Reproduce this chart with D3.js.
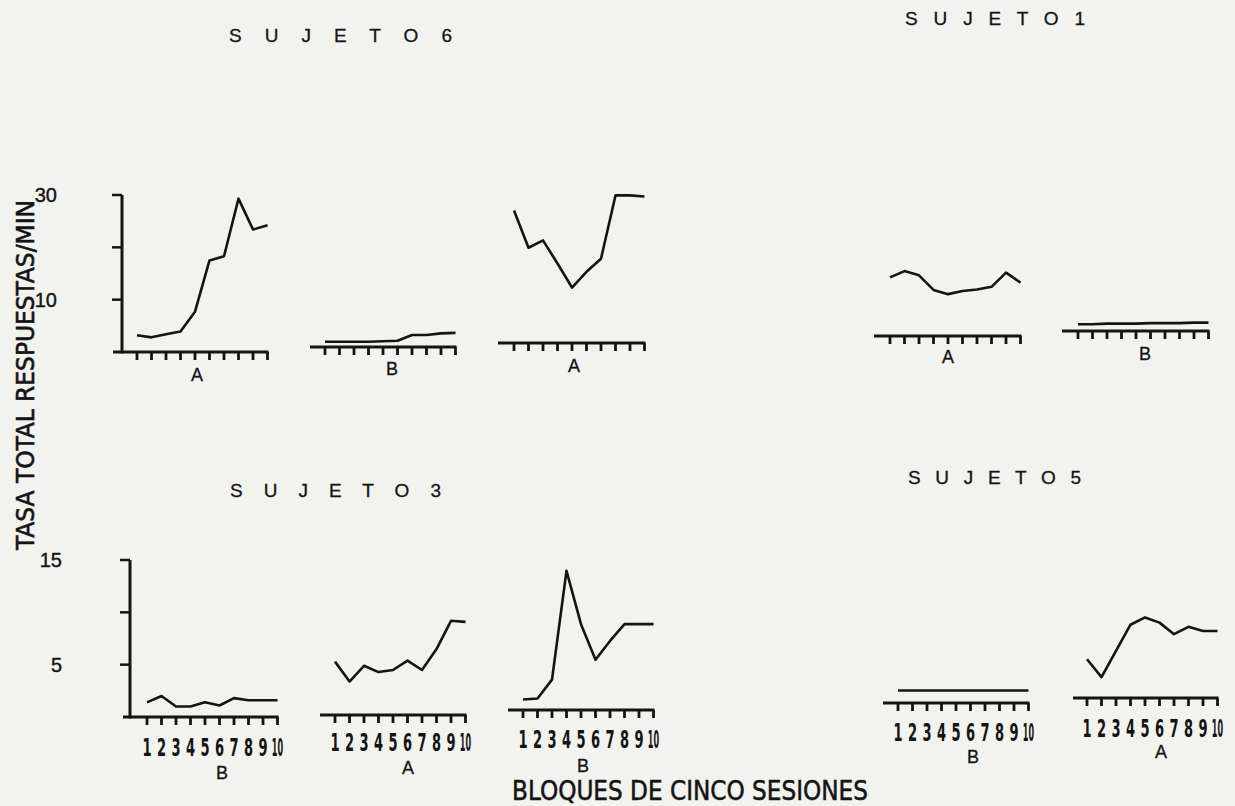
<!DOCTYPE html>
<html><head><meta charset="utf-8">
<script src="https://cdn.jsdelivr.net/npm/d3@7"></script>
<style>html,body{margin:0;padding:0;background:#f2f2ef;}svg{display:block;}</style>
</head><body>
<svg id="chart" width="1235" height="806"></svg>
<script>
// ---------- data ----------
const blocks = [1,2,3,4,5,6,7,8,9,10];
const blockLabels = ["1","2","3","4","5","6","7","8","9","10"];
const subjects = ["S U J E T O 6","S U J E T O 1","S U J E T O 3","S U J E T O 5"];
const conditions = ["A","B","A","A","B","B","A","B","B","A"];
const s6A1 = [3.2,2.8,3.4,3.9,7.7,17.5,18.3,29.3,23.4,24.2];
const s6B  = [1.0,1.0,1.0,1.0,1.1,1.2,2.3,2.3,2.6,2.7];
const s6A2 = [25.3,18.2,19.6,15.2,10.6,13.6,16.1,28.2,28.2,28.0];
const s1A  = [11.2,12.4,11.6,8.8,8.0,8.6,8.9,9.4,12.1,10.2];
const s1B  = [1.3,1.3,1.4,1.4,1.4,1.5,1.5,1.5,1.6,1.6];
const s3B1 = [1.4,2.0,1.0,1.0,1.4,1.1,1.8,1.6,1.6,1.6];
const s3A  = [5.1,3.2,4.7,4.1,4.3,5.2,4.3,6.3,9.0,8.9];
const s3B2 = [1.0,1.1,2.9,13.3,8.2,4.8,6.6,8.2,8.2,8.2];
const s5B  = [1.2,1.2,1.2,1.2,1.2,1.2,1.2,1.2,1.2,1.2];
const s5A  = [3.7,2.0,4.5,7.0,7.7,7.2,6.1,6.8,6.4,6.4];
const yTicksTop = [10,20,30];
const yTickLabelsTop = [30,10];
const yTicksBottom = [5,10,15];
const yTickLabelsBottom = [15,5];
const yAxisTitle = "TASA TOTAL RESPUESTAS/MIN";
const xAxisTitle = "BLOQUES DE CINCO SESIONES";

// ---------- layout ----------
const series = [s6A1,s6B,s6A2,s1A,s1B,s3B1,s3A,s3B2,s5B,s5A];
const layout = [
  {x0:137, base:352, start:113, yAxis:122, lx:197, ly:381, row:0},
  {x0:325, base:347, start:310, lx:392, ly:375, row:0},
  {x0:514, base:343, start:498, lx:574, ly:372, row:0},
  {x0:890, base:336, start:874, lx:948, ly:363, row:0},
  {x0:1078,base:331, start:1062,lx:1145,ly:360, row:0},
  {x0:147, base:717, start:123, yAxis:130, lx:222, ly:779, row:1, tl:756},
  {x0:335, base:715, start:320, lx:408, ly:774, row:1, tl:751},
  {x0:523, base:710, start:508, lx:583, ly:772, row:1, tl:748},
  {x0:898, base:703, start:883, lx:973, ly:763, row:1, tl:741},
  {x0:1087,base:698, start:1073,lx:1161,ly:758, row:1, tl:737}
];
const step = 14.5;
const rowScale = [{max:30, h:157}, {max:15, h:157}];
const titlePos = [
  {x1:229, x2:452, y:42},
  {x1:905, x2:1085, y:25},
  {x1:230, x2:441, y:497},
  {x1:908, x2:1081, y:484}
];
const ink = "#141414";
const narrow = "'Liberation Sans Narrow', 'DejaVu Sans Condensed', sans-serif";
const svg = d3.select("#chart");
svg.append("rect").attr("width",1235).attr("height",806).attr("fill","#f2f2ef");

// titles
subjects.forEach((t,i)=>{
  const p = titlePos[i];
  svg.append("text").attr("x",p.x1).attr("y",p.y)
    .attr("font-family","'Liberation Sans', Arial, sans-serif")
    .attr("font-size",19).attr("fill",ink)
    .attr("stroke",ink).attr("stroke-width",0.3)
    .attr("textLength",p.x2-p.x1).attr("lengthAdjust","spacing")
    .text(t);
});

// panels
series.forEach((vals,i)=>{
  const L = layout[i];
  const rs = rowScale[L.row];
  const x = d3.scaleLinear().domain([1,10]).range([L.x0, L.x0 + 9*step]);
  const y = d3.scaleLinear().domain([0,rs.max]).range([L.base, L.base - rs.h]);
  const g = svg.append("g");
  // baseline
  g.append("line").attr("x1",L.start).attr("x2",x(10)+1).attr("y1",y(0)).attr("y2",y(0))
    .attr("stroke",ink).attr("stroke-width",3);
  // ticks
  g.selectAll("line.tk").data(blocks).enter().append("line")
    .attr("x1",d=>x(d)).attr("x2",d=>x(d)).attr("y1",y(0)).attr("y2",y(0)+8)
    .attr("stroke",ink).attr("stroke-width",2.8);
  // y axis
  if (L.yAxis !== undefined) {
    const ticks = L.row===0 ? yTicksTop : yTicksBottom;
    const labels = L.row===0 ? yTickLabelsTop : yTickLabelsBottom;
    g.append("line").attr("x1",L.yAxis).attr("x2",L.yAxis).attr("y1",y(0)+1.5).attr("y2",y(rs.max))
      .attr("stroke",ink).attr("stroke-width",3);
    g.selectAll("line.yt").data(ticks).enter().append("line")
      .attr("x1",L.yAxis-10).attr("x2",L.yAxis).attr("y1",d=>y(d)).attr("y2",d=>y(d))
      .attr("stroke",ink).attr("stroke-width",2.5);
    g.selectAll("text.yl").data(labels).enter().append("text")
      .attr("x", L.row===0 ? 57 : 62).attr("y",d=>y(d)+7)
      .attr("text-anchor","end")
      .attr("font-family","'Liberation Sans', Arial, sans-serif")
      .attr("font-size",20).attr("fill",ink)
      .attr("stroke",ink).attr("stroke-width",0.4).text(d=>d);
  }
  // data line
  const line = d3.line().x((d,j)=>x(blocks[j])).y(d=>y(d));
  g.append("path").datum(vals).attr("d",line).attr("fill","none")
    .attr("stroke",ink).attr("stroke-width",2.6).attr("stroke-linejoin","round");
  // tick labels (bottom row)
  if (L.row===1) {
    g.selectAll("text.tl").data(blocks).enter().append("text")
      .attr("transform",(d,j)=>`translate(${x(d)},${L.tl}) scale(${blockLabels[j].length>1?0.36:0.58},1)`)
      .attr("text-anchor","middle")
      .attr("font-family",narrow)
      .attr("font-weight","bold")
      .attr("font-size",25).attr("fill",ink)
      .text((d,j)=>blockLabels[j]);
  }
  // condition letter
  g.append("text").attr("x",L.lx).attr("y",L.ly).attr("text-anchor","middle")
    .attr("font-family","'Liberation Sans', Arial, sans-serif")
    .attr("font-size",18).attr("fill",ink)
    .attr("stroke",ink).attr("stroke-width",0.3).text(conditions[i]);
});

// axis titles
svg.append("text").attr("transform","translate(34,375) rotate(-90)")
  .attr("text-anchor","middle")
  .attr("font-family",narrow)
  .attr("font-size",24).attr("fill",ink)
  .attr("stroke",ink).attr("stroke-width",0.6)
  .attr("textLength",350).attr("lengthAdjust","spacingAndGlyphs")
  .text(yAxisTitle);
svg.append("text").attr("x",690).attr("y",800)
  .attr("text-anchor","middle")
  .attr("font-family",narrow)
  .attr("font-size",26).attr("fill",ink)
  .attr("stroke",ink).attr("stroke-width",0.5)
  .attr("textLength",356).attr("lengthAdjust","spacingAndGlyphs")
  .text(xAxisTitle);
</script>
</body></html>
